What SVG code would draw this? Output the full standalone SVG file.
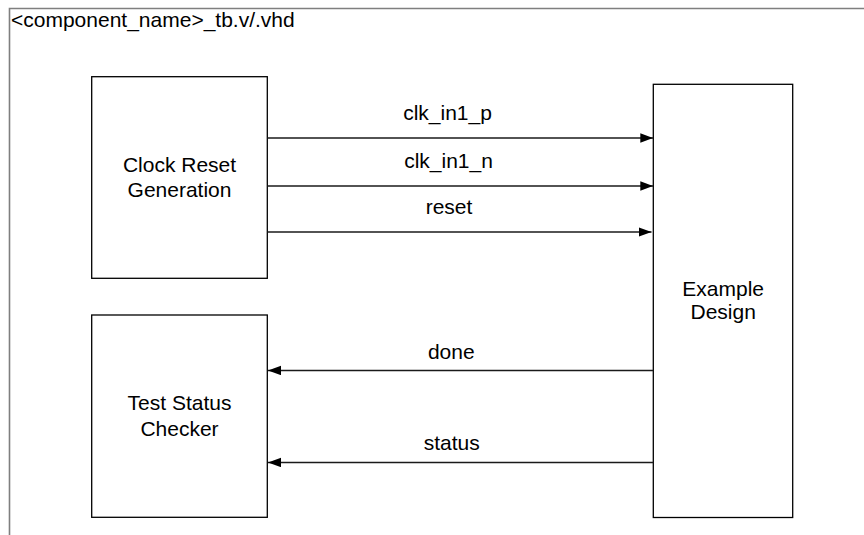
<svg xmlns="http://www.w3.org/2000/svg" width="864" height="535" viewBox="0 0 864 535">
  <style>
    .box { fill: #ffffff; stroke: #000000; stroke-width: 1.3; }
    .lbl { font-family: "Liberation Sans", Arial, sans-serif; font-size: 21px; fill: #000000; text-anchor: middle; }
    .title { font-family: "Liberation Sans", Arial, sans-serif; font-size: 21px; fill: #000000; }
    .conn { stroke: #1a1a1a; stroke-width: 1.3; fill: none; }
    .frame { stroke: #7f7f7f; stroke-width: 1.6; fill: none; }
  </style>
  <defs>
    <marker id="arrow" markerUnits="userSpaceOnUse" markerWidth="13" markerHeight="10" refX="13" refY="4.7" orient="auto">
      <path d="M0,0 L13,4.7 L0,9.4 z" fill="#000000"/>
    </marker>
  </defs>
  <rect width="864" height="535" fill="#ffffff"/>

  <g id="frame">
    <path class="frame" d="M9.5,535 L9.5,8.5 L864,8.5"/>
    <text class="title" x="11" y="27.3">&lt;component_name&gt;_tb.v/.vhd</text>
  </g>

  <g id="clock-reset-generation">
    <rect class="box" x="91.7" y="76.7" width="175.6" height="201.6"/>
    <text class="lbl" x="179.5" y="171.5">Clock Reset</text>
    <text class="lbl" x="179.5" y="197">Generation</text>
  </g>

  <g id="test-status-checker">
    <rect class="box" x="91.7" y="315" width="175.6" height="202.3"/>
    <text class="lbl" x="179.5" y="410">Test Status</text>
    <text class="lbl" x="179.5" y="435.5">Checker</text>
  </g>

  <g id="example-design">
    <rect class="box" x="653.3" y="84.3" width="139.4" height="433.2"/>
    <text class="lbl" x="723.2" y="296">Example</text>
    <text class="lbl" x="723.2" y="318.5">Design</text>
  </g>

  <g id="connectors">
    <line class="conn" x1="267.3" y1="138" x2="653.3" y2="138" stroke="#777777" stroke-width="1.7" marker-end="url(#arrow)"/>
    <line class="conn" x1="267.3" y1="186" x2="653.3" y2="186" marker-end="url(#arrow)"/>
    <line class="conn" x1="267.3" y1="232" x2="651.5" y2="232" marker-end="url(#arrow)"/>
    <line class="conn" x1="653.3" y1="370.5" x2="268" y2="370.5" stroke="#444444" marker-end="url(#arrow)"/>
    <line class="conn" x1="653.3" y1="462.5" x2="268" y2="462.5" stroke="#444444" marker-end="url(#arrow)"/>
    <text class="lbl" x="447.5" y="120">clk_in1_p</text>
    <text class="lbl" x="448.5" y="168.3">clk_in1_n</text>
    <text class="lbl" x="449" y="214.3">reset</text>
    <text class="lbl" x="451.3" y="359">done</text>
    <text class="lbl" x="451.7" y="450">status</text>
  </g>
</svg>
